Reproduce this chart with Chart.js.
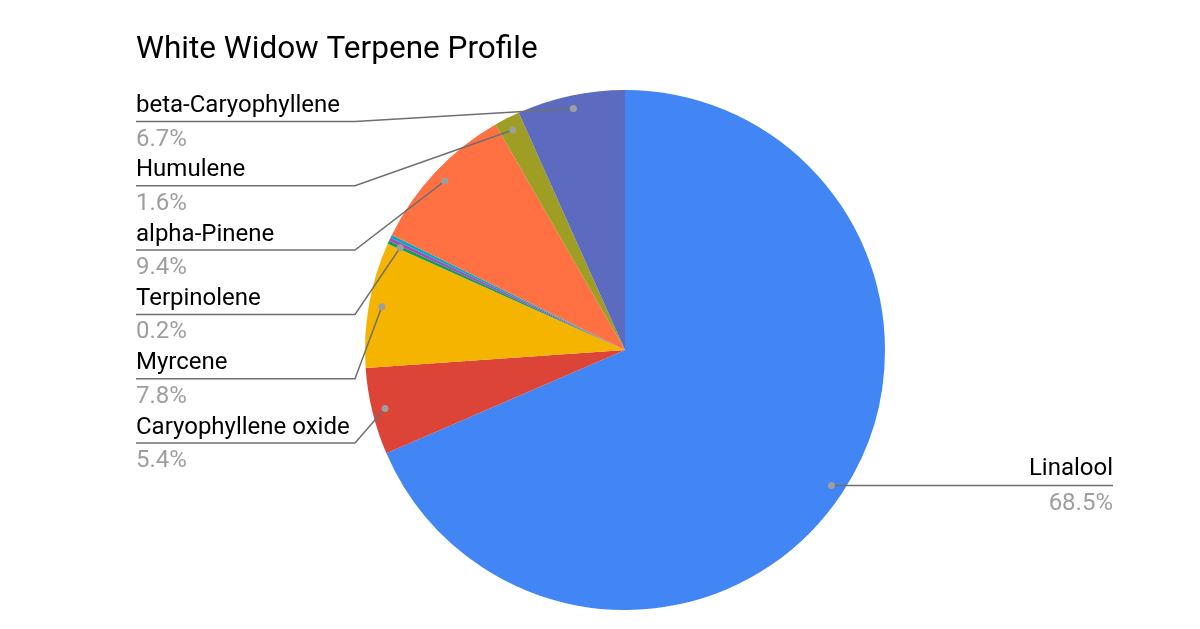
<!DOCTYPE html>
<html lang="en">
<head>
    <meta charset="UTF-8">
    <title>White Widow Terpene Profile</title>
    <script src="https://cdn.jsdelivr.net/npm/chart.js"></script>
    <style>
        html, body { margin: 0; padding: 0; background: #fff; overflow: hidden; }
        #wrap { width: 1200px; height: 629px; position: relative; }
    </style>
</head>
<body>
    <div id="wrap"><canvas id="pie"></canvas></div>
    <script>
        const chartTitle = 'White Widow Terpene Profile';
        const terpenes = ['Linalool', 'Caryophyllene oxide', 'Myrcene', 'Terpinolene', 'Limonene', 'Ocimene', 'alpha-Pinene', 'Humulene', 'beta-Caryophyllene'];
        const shares = [68.5, 5.4, 7.8, 0.2, 0.2, 0.2, 9.4, 1.6, 6.7];
        const labelled = [true, true, true, true, false, false, true, true, true];
        const sliceColors = ['#4285F4', '#DB4437', '#F4B400', '#0F9D58', '#AB47BC', '#00ACC1', '#FF7043', '#9E9D24', '#5C6BC0'];

        const FONT = 'Roboto, "Noto Sans", sans-serif';

        // draws title, leader lines, dots and the label text
        const calloutPlugin = {
            id: 'callouts',
            afterDraw(chart) {
                const ctx = chart.ctx;
                const meta = chart.getDatasetMeta(0);
                ctx.save();
                ctx.fillStyle = '#000';
                ctx.font = '31.5px ' + FONT;
                ctx.textBaseline = 'middle';
                ctx.textAlign = 'left';
                ctx.fillText(chartTitle, 136, 50);

                // left column, top to bottom = reverse data order
                const leftIdx = [];
                for (let i = terpenes.length - 1; i >= 1; i--) if (labelled[i]) leftIdx.push(i);

                const dotPos = (i) => {
                    const a = meta.data[i];
                    const mid = (a.startAngle + a.endAngle) / 2;
                    const r = a.outerRadius * 0.95;
                    return { x: a.x + Math.cos(mid) * r, y: a.y + Math.sin(mid) * r };
                };

                ctx.strokeStyle = '#6f6f6f';
                ctx.lineWidth = 1.5;
                leftIdx.forEach((i, k) => {
                    const ly = 121.5 + k * 64.3;
                    const d = dotPos(i);
                    ctx.beginPath();
                    ctx.moveTo(136, ly);
                    ctx.lineTo(355, ly);
                    ctx.lineTo(d.x, d.y);
                    ctx.stroke();
                    ctx.font = '24px ' + FONT;
                    ctx.fillStyle = '#000';
                    ctx.fillText(terpenes[i], 136, ly - 15.5);
                    ctx.fillStyle = '#9e9e9e';
                    ctx.fillText(shares[i].toFixed(1) + '%', 136, ly + 18);
                    ctx.beginPath();
                    ctx.arc(d.x, d.y, 3.5, 0, Math.PI * 2);
                    ctx.fill();
                });

                // Linalool on the right
                const d0 = dotPos(0);
                ctx.beginPath();
                ctx.moveTo(d0.x, d0.y);
                ctx.lineTo(1113, d0.y);
                ctx.stroke();
                ctx.textAlign = 'right';
                ctx.font = '24px ' + FONT;
                ctx.fillStyle = '#000';
                ctx.fillText(terpenes[0], 1113, d0.y - 16.5);
                ctx.fillStyle = '#9e9e9e';
                ctx.fillText(shares[0].toFixed(1) + '%', 1113, d0.y + 18);
                ctx.beginPath();
                ctx.arc(d0.x, d0.y, 3.5, 0, Math.PI * 2);
                ctx.fill();
                ctx.restore();
            }
        };

        new Chart(document.getElementById('pie'), {
            type: 'pie',
            data: {
                labels: terpenes,
                datasets: [{
                    data: shares,
                    backgroundColor: sliceColors,
                    borderWidth: 0
                }]
            },
            options: {
                responsive: true,
                maintainAspectRatio: false,
                animation: false,
                layout: { padding: { left: 365, right: 315, top: 90, bottom: 19 } },
                plugins: {
                    legend: { display: false },
                    tooltip: { enabled: false }
                }
            },
            plugins: [calloutPlugin]
        });
    </script>
</body>
</html>
